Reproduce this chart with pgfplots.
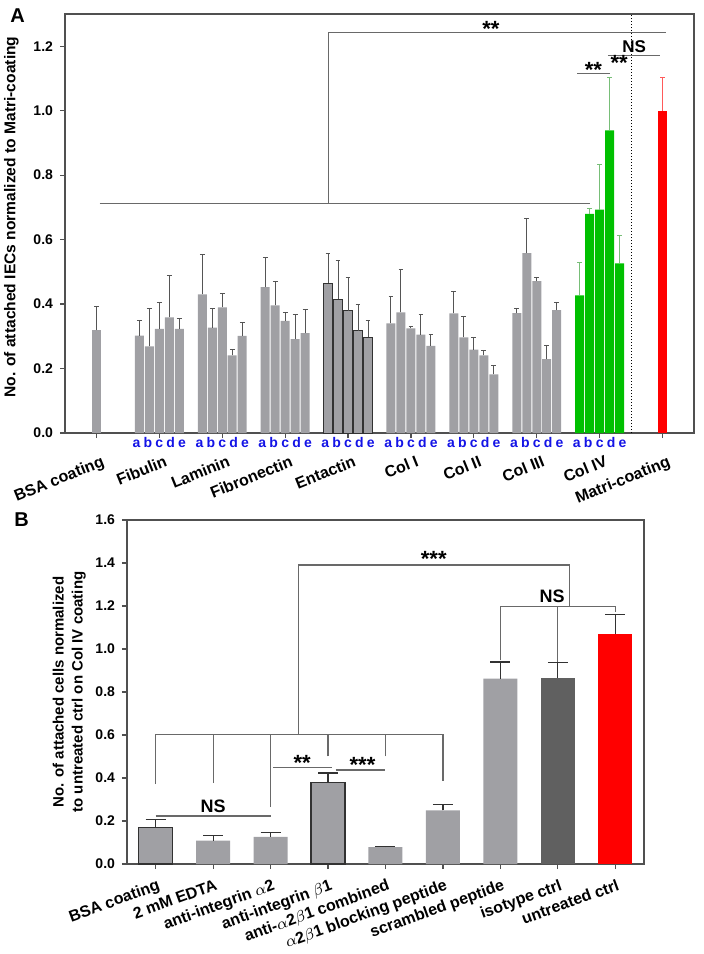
\documentclass[border=0pt]{standalone}
\usepackage{pgfplots}
\pgfplotsset{compat=1.18}
\usepackage{pgfplotstable}
\usepackage{fontspec}
\setmainfont{Liberation Sans}

\definecolor{barg}{RGB}{160,160,164}
\definecolor{errg}{RGB}{85,85,85}
\definecolor{edge}{RGB}{50,50,50}
\definecolor{colgreen}{RGB}{0,192,0}
\definecolor{errgreen}{RGB}{120,190,120}
\definecolor{errred}{RGB}{255,90,90}
\definecolor{isog}{RGB}{96,96,96}
\definecolor{brk}{RGB}{105,105,105}
\definecolor{boxc}{RGB}{80,80,80}
\definecolor{abcblue}{RGB}{20,20,230}

% panel A: g = group position, i = letter a..e (0..4), y = mean, e = upper error
\pgfplotstableread{
g i y e
0 2 0.319 0.075
}\bsaA
\pgfplotstableread{
g i y e
1 0 0.302 0.048
1 1 0.269 0.118
1 2 0.323 0.083
1 3 0.359 0.129
1 4 0.323 0.033
2 0 0.430 0.125
2 1 0.327 0.060
2 2 0.390 0.044
2 3 0.241 0.018
2 4 0.301 0.042
3 0 0.453 0.093
3 1 0.396 0.073
3 2 0.348 0.027
3 3 0.291 0.077
3 4 0.310 0.074
5 0 0.340 0.083
5 1 0.374 0.134
5 2 0.325 0.007
5 3 0.305 0.064
5 4 0.270 0.036
6 0 0.371 0.069
6 1 0.297 0.065
6 2 0.259 0.038
6 3 0.241 0.016
6 4 0.182 0.028
7 0 0.372 0.014
7 1 0.558 0.109
7 2 0.471 0.010
7 3 0.229 0.042
7 4 0.381 0.025
}\grayA
\pgfplotstableread{
g i y e
4 0 0.465 0.093
4 1 0.415 0.120
4 2 0.380 0.102
4 3 0.318 0.082
4 4 0.297 0.053
}\entA
\pgfplotstableread{
g i y e
8 0 0.427 0.102
8 1 0.680 0.017
8 2 0.693 0.139
8 3 0.939 0.164
8 4 0.526 0.088
}\colivA
\pgfplotstableread{
g i y e
9 2 1.000 0.103
}\matriA

% panel B
\pgfplotstableread{
x y e
1 0.109 0.022
2 0.126 0.022
4 0.078 0.005
5 0.250 0.025
6 0.862 0.078
}\grayB
\pgfplotstableread{
x y e
0 0.171 0.036
3 0.379 0.044
}\edgeB
\pgfplotstableread{
x y e
7 0.866 0.072
}\isoB
\pgfplotstableread{
x y e
8 1.070 0.092
}\untrB

\tikzset{abc/.style={text=abcblue, font=\bfseries\fontsize{7}{8}\selectfont,
    inner sep=0pt, anchor=base, yshift=-7.2pt}}

\begin{document}
\begin{tikzpicture}[font=\bfseries]
\path[use as bounding box] (0,0) rectangle (352pt,-477pt);

\pgfplotsset{
  panel/.style={
    scale only axis, clip=false,
    axis line style={boxc, line width=0.6pt},
    tick style={boxc, line width=0.6pt},
    tick align=outside, major tick length=2.5pt,
    xtick pos=bottom, ytick pos=left,
    ymin=0,
    /pgf/number format/assume math mode=true,
    yticklabel style={font=\bfseries\fontsize{7}{8}\selectfont,
      /pgf/number format/fixed, /pgf/number format/precision=1,
      /pgf/number format/fixed zerofill},
    xticklabel style={font=\bfseries\fontsize{8}{9}\selectfont,
      anchor=north east, inner sep=1pt},
    ylabel style={font=\bfseries\fontsize{7.5}{9.5}\selectfont, align=center},
  },
  Abar/.style={ybar, bar width=4.5pt, bar shift=0pt,
    error bars/y dir=plus, error bars/y explicit,
    error bars/error bar style={line width=0.5pt, #1},
    error bars/error mark options={rotate=90, line width=0.5pt, mark size=1.2pt, #1}},
  Bbar/.style={ybar, bar width=17pt, bar shift=0pt,
    error bars/y dir=plus, error bars/y explicit,
    error bars/error bar style={line width=0.6pt, #1},
    error bars/error mark options={rotate=90, line width=0.6pt, mark size=5pt, #1}},
}

% ---------------- panel A ----------------
\begin{axis}[panel,
  at={(32.5pt,-216.5pt)}, anchor=south west,
  width=314.5pt, height=209.5pt,
  xmin=-0.5, xmax=9.5, ymax=1.3,
  ytick={0,0.2,...,1.2},
  xtick={0,...,9},
  xticklabels={BSA coating,Fibulin,Laminin,Fibronectin,Entactin,Col I,Col II,Col III,Col IV,Matri-coating},
  xticklabel style={rotate=22, yshift=-7.5pt},
  ylabel={No. of attached IECs normalized to Matri-coating},
  ylabel style={font=\bfseries\fontsize{7.8}{9.5}\selectfont, yshift=0.5pt, xshift=3.2pt},
]
\addplot[Abar=errg, fill=barg, draw=none]
  table[x expr=\thisrow{g}+0.1587*(\thisrow{i}-2), y=y, y error=e]{\bsaA};
\addplot[Abar=errg, fill=barg, draw=none]
  table[x expr=\thisrow{g}+0.1587*(\thisrow{i}-2), y=y, y error=e]{\grayA};
\addplot[Abar=errg, fill=barg, draw=edge, line width=0.5pt]
  table[x expr=\thisrow{g}+0.1587*(\thisrow{i}-2), y=y, y error=e]{\entA};
\addplot[Abar=errgreen, fill=colgreen, draw=none]
  table[x expr=\thisrow{g}+0.1587*(\thisrow{i}-2), y=y, y error=e]{\colivA};
\addplot[Abar=errred, fill=red, draw=none]
  table[x expr=\thisrow{g}+0.1587*(\thisrow{i}-2), y=y, y error=e]{\matriA};

% a-e letters under the groups
\pgfplotsinvokeforeach{1,...,8}{
  \node[abc] at (axis cs:#1-0.362,0) {a};
  \node[abc] at (axis cs:#1-0.181,0) {b};
  \node[abc] at (axis cs:#1,0) {c};
  \node[abc] at (axis cs:#1+0.181,0) {d};
  \node[abc] at (axis cs:#1+0.362,0) {e};
}

% separator before Matri-coating
\draw[densely dotted, black, line width=0.5pt] (axis cs:8.5,0) -- (axis cs:8.5,1.3);

% significance brackets
\draw[brk, line width=0.6pt] (axis cs:0.05,0.711) -- (axis cs:7.84,0.711);
\draw[brk, line width=0.6pt] (axis cs:3.69,0.711) -- (axis cs:3.69,1.242) -- (axis cs:9.06,1.242);
\node[anchor=south, inner sep=0.5pt, font=\bfseries\fontsize{11}{11}\selectfont] at (axis cs:6.27,1.225) {**};
\draw[brk, line width=0.6pt] (axis cs:8.13,1.172) -- (axis cs:8.96,1.172);
\node[anchor=south, inner sep=1pt, font=\bfseries\fontsize{8.5}{9}\selectfont] at (axis cs:8.55,1.172) {NS};
\draw[brk, line width=0.6pt] (axis cs:7.64,1.116) -- (axis cs:8.16,1.116);
\node[anchor=south, inner sep=0.5pt, font=\bfseries\fontsize{11}{11}\selectfont] at (axis cs:7.9,1.1) {**};
\node[anchor=south, inner sep=0.5pt, font=\bfseries\fontsize{11}{11}\selectfont] at (axis cs:8.31,1.12) {**};
\end{axis}

% ---------------- panel B ----------------
\begin{axis}[panel,
  at={(63.5pt,-432pt)}, anchor=south west,
  width=258.5pt, height=172pt,
  xmin=-0.5, xmax=8.5, ymax=1.6,
  ytick={0,0.2,...,1.6},
  xtick={0,...,8},
  xticklabels={BSA coating,2 mM EDTA,anti-integrin $\alpha$2,anti-integrin $\beta$1,anti-$\alpha$2$\beta$1 combined,$\alpha$2$\beta$1 blocking peptide,scrambled peptide,isotype ctrl,untreated ctrl},
  xticklabel style={rotate=20, yshift=-3.5pt},
  ylabel={No. of attached cells normalized\\to untreated ctrl on Col IV coating},
  ylabel style={yshift=-2pt},
]
\addplot[Bbar=edge, fill=barg, draw=none] table[x=x, y=y, y error=e]{\grayB};
\addplot[Bbar=edge, fill=barg, draw=edge, line width=0.6pt] table[x=x, y=y, y error=e]{\edgeB};
\addplot[Bbar=edge, fill=isog, draw=none] table[x=x, y=y, y error=e]{\isoB};
\addplot[Bbar=edge, fill=red, draw=none] table[x=x, y=y, y error=e]{\untrB};

% significance brackets
\draw[brk, line width=0.6pt] (axis cs:0,0.223) -- (axis cs:2,0.223);
\node[anchor=south, inner sep=1pt, font=\bfseries\fontsize{9}{9}\selectfont] at (axis cs:1,0.226) {NS};
\draw[brk, line width=0.6pt] (axis cs:0,0.371) -- (axis cs:0,0.602) -- (axis cs:5,0.602) -- (axis cs:5,0.387);
\draw[brk, line width=0.6pt] (axis cs:1,0.376) -- (axis cs:1,0.602);
\draw[brk, line width=0.6pt] (axis cs:2,0.265) -- (axis cs:2,0.602);
\draw[brk, line width=0.6pt] (axis cs:3,0.501) -- (axis cs:3,0.602);
\draw[brk, line width=0.6pt] (axis cs:4,0.501) -- (axis cs:4,0.602);
\draw[brk, line width=0.6pt] (axis cs:2.48,0.602) -- (axis cs:2.48,1.391) -- (axis cs:7.2,1.391) -- (axis cs:7.2,1.199);
\node[anchor=south, inner sep=0.5pt, font=\bfseries\fontsize{11}{11}\selectfont] at (axis cs:4.84,1.375) {***};
\draw[brk, line width=0.6pt] (axis cs:6,0.947) -- (axis cs:6,1.199) -- (axis cs:8,1.199) -- (axis cs:8,1.17);
\draw[brk, line width=0.6pt] (axis cs:7,0.94) -- (axis cs:7,1.199);
\node[anchor=south, inner sep=1.5pt, font=\bfseries\fontsize{9}{9}\selectfont] at (axis cs:6.9,1.2) {NS};
\draw[brk, line width=0.6pt] (axis cs:2.05,0.448) -- (axis cs:3.07,0.448);
\node[anchor=south, inner sep=0.5pt, font=\bfseries\fontsize{11}{11}\selectfont] at (axis cs:2.55,0.43) {**};
\draw[brk, line width=0.6pt] (axis cs:3.13,0.437) -- (axis cs:4.0,0.437);
\node[anchor=south, inner sep=0.5pt, font=\bfseries\fontsize{11}{11}\selectfont] at (axis cs:3.6,0.42) {***};
\end{axis}

\node[anchor=north west, inner sep=0pt, font=\bfseries\fontsize{10}{10}\selectfont] at (5pt,-4pt) {A};
\node[anchor=north west, inner sep=0pt, font=\bfseries\fontsize{10}{10}\selectfont] at (7pt,-256pt) {B};
\end{tikzpicture}
\end{document}
